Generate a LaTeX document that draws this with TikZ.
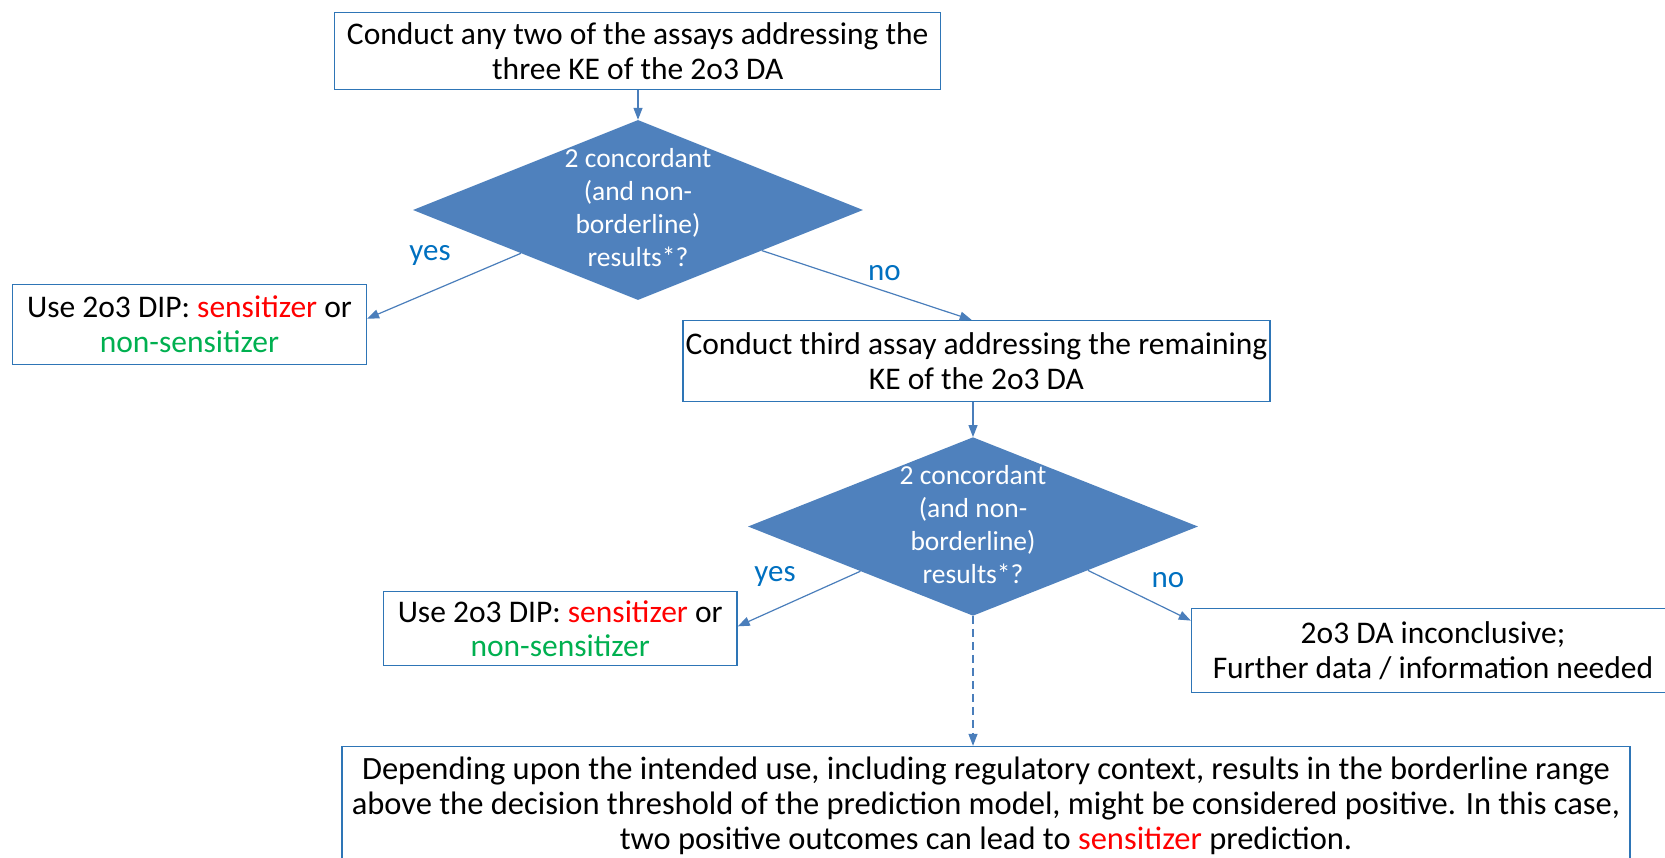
\documentclass[tikz,border=0pt]{standalone}
\usepackage{fontspec}
\setmainfont{Carlito}
\usetikzlibrary{shapes.geometric,arrows.meta,calc}
\definecolor{diafill}{HTML}{4F81BD}
\definecolor{boxline}{HTML}{2E75B6}
\definecolor{conline}{HTML}{4A7EBB}
\definecolor{lblblue}{HTML}{0070C0}
\definecolor{sred}{HTML}{FF0000}
\definecolor{sgreen}{HTML}{00B050}
\tikzset{
  stepbox/.style={draw=boxline, line width=1.4pt, fill=white, inner sep=0pt, align=center,
    font=\fontsize{31.5}{34.5}\selectfont},
  dia/.style={diamond, fill=diafill, draw=none, inner sep=0pt},
  diatext/.style={text=white, align=center, font=\fontsize{27.5}{33}\selectfont},
  conn/.style={draw=conline, line width=1.2pt, -{Triangle[length=12pt,width=9pt]}},
  lbl/.style={text=lblblue, font=\fontsize{31}{34}\selectfont}
}
\begin{document}
\begin{tikzpicture}[x=1pt,y=-1pt]
\useasboundingbox (0,0) rectangle (1665,857);
\node[stepbox, minimum width=606pt, minimum height=76.5pt] (b1) at (637.7,51)
  {Conduct any two of the assays addressing the\\three KE of the 2o3 DA};
\node[dia, minimum width=450pt, minimum height=180pt] (d1) at (638,210) {};
\node[diatext] (t1) at (638,208) {2 concordant\\(and non-\\borderline)\\results*?};
\node[stepbox, minimum width=353.7pt, minimum height=79.6pt] (l1) at (189.5,324.4)
  {Use 2o3 DIP: \textcolor{sred}{sensitizer} or\\\textcolor{sgreen}{non-sensitizer}};
\node[stepbox, minimum width=587pt, minimum height=80.7pt] (b2) at (976.4,361)
  {Conduct third assay addressing the remaining\\KE of the 2o3 DA};
\node[dia, minimum width=450pt, minimum height=178.5pt] (d2) at (973,526.5) {};
\node[diatext] (t2) at (973,525) {2 concordant\\(and non-\\borderline)\\results*?};
\node[stepbox, minimum width=353.6pt, minimum height=74.3pt] (l2) at (560.2,628.6)
  {Use 2o3 DIP: \textcolor{sred}{sensitizer} or\\\textcolor{sgreen}{non-sensitizer}};
\node[stepbox, minimum width=483pt, minimum height=84pt] (r2) at (1433,650.5)
  {2o3 DA inconclusive;\\Further data / information needed};
\node[stepbox, minimum width=1288pt, minimum height=119pt, font=\fontsize{32.5}{35}\selectfont] (bb) at (986,806)
  {Depending upon the intended use, including regulatory context, results in the borderline range\\
   above the decision threshold of the prediction model, might be considered positive. In this case,\\
   two positive outcomes can lead to \textcolor{sred}{sensitizer} prediction.};
% connectors
\draw[conn] (b1.south -| d1.north) -- (d1.north);
\draw[conn] ($(d1.west)!0.48!(d1.south)$) -- ($(l1.north east)!0.43!(l1.south east)$);
\draw[conn] ($(d1.east)!0.45!(d1.south)$) -- ($(b2.north west)!0.492!(b2.north east)$);
\draw[conn] (b2.south -| d2.north) -- (d2.north);
\draw[conn] ($(d2.west)!0.5!(d2.south)$) -- ($(l2.north east)!0.47!(l2.south east)$);
\draw[conn] ($(d2.east)!0.49!(d2.south)$) -- ($(r2.north west)!0.15!(r2.south west)$);
\draw[conn, dashed, dash pattern=on 8pt off 5pt] (d2.south) -- (d2.south |- bb.north);
% labels
\node[lbl] (y1) at (430,255) {yes};
\node[lbl] (n1) at (884.5,273) {no};
\node[lbl] (y2) at (775,576.6) {yes};
\node[lbl] (n2) at (1168,580) {no};
\end{tikzpicture}
\end{document}
